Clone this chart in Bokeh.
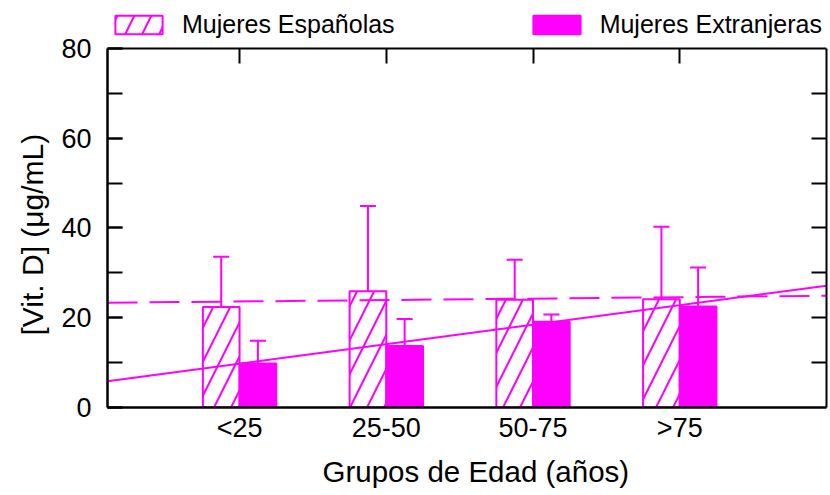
import numpy as np
from bokeh.plotting import figure
from bokeh.models import (ColumnDataSource, FixedTicker, SingleIntervalTicker, LinearAxis,
                          Range1d, Legend, LegendItem, Whisker, TeeHead, Title)
from bokeh.transform import dodge
from bokeh.embed import file_html
from bokeh.resources import INLINE

# ---- data ----
categories = ["<25", "25-50", "50-75", ">75"]
espanolas = [22.4, 25.9, 24.0, 24.1]
espanolas_err_top = [33.6, 44.9, 32.9, 40.3]
extranjeras = [9.8, 13.7, 19.1, 22.5]
extranjeras_err_top = [14.9, 19.7, 20.7, 31.2]
series_names = ["Mujeres Españolas", "Mujeres Extranjeras"]
y_max = 80
y_all_ticks = [10, 20, 30, 40, 50, 60, 70]

MAG = "#ff00ff"
FONT = "Liberation Sans"

xpos = list(range(1, len(categories) + 1))
src = ColumnDataSource(dict(x=xpos, esp=espanolas, esp_err=espanolas_err_top,
                            ext=extranjeras, ext_err=extranjeras_err_top))

# frame extends above the 80 line so the legend can sit inside it
p = figure(width=830, height=495, x_range=Range1d(0.1, 5.0), y_range=Range1d(0, 88.9),
           output_backend="svg", toolbar_location=None,
           min_border_left=107, min_border_right=4, min_border_top=8, min_border_bottom=88)
p.xgrid.visible = False
p.ygrid.visible = False
p.outline_line_color = None
p.background_fill_color = "white"
p.border_fill_color = "white"

r_esp = p.vbar(x=dodge("x", -0.125, range=p.x_range), top="esp", width=0.25, source=src,
               fill_color="white", line_color=MAG, line_width=2,
               hatch_pattern="/", hatch_color=MAG, hatch_weight=2, hatch_scale=34)
r_ext = p.vbar(x=dodge("x", 0.125, range=p.x_range), top="ext", width=0.25, source=src,
               fill_color=MAG, line_color=MAG, line_width=2)

for col, top, off in (("esp", "esp_err", -0.125), ("ext", "ext_err", 0.125)):
    w = Whisker(base=dodge("x", off, range=p.x_range), lower=col, upper=top, source=src,
                line_color=MAG, line_width=2,
                upper_head=TeeHead(size=16, line_color=MAG, line_width=2), lower_head=None)
    p.add_layout(w)

# linear trend lines
x0, x1 = p.x_range.start, p.x_range.end
ce = np.polyfit(xpos, espanolas, 1)
cx = np.polyfit(xpos, extranjeras, 1)
p.line([x0, x1], [np.polyval(ce, x0), np.polyval(ce, x1)], line_color=MAG, line_width=2,
       line_dash="30 12")
p.line([x0, x1], [np.polyval(cx, x0), np.polyval(cx, x1)], line_color=MAG, line_width=2)

xa = p.xaxis[0]
xa.ticker = FixedTicker(ticks=xpos)
xa.major_label_overrides = {x: c for x, c in zip(xpos, categories)}
xa.major_tick_in = 0
xa.major_tick_out = 0
xa.minor_tick_line_color = None
xa.axis_line_width = 2.5
xa.major_label_text_font = FONT
xa.major_label_text_font_size = "27px"
xa.major_label_text_color = "black"
xa.major_label_standoff = 5

# x title as a side-panel Title so it can be shifted along the axis
xtitle = Title(text="Grupos de Edad (años)", align="left", offset=215, standoff=14,
               text_font=FONT, text_font_size="29.5px", text_font_style="normal",
               text_color="black")
p.add_layout(xtitle, "below")

ya = p.yaxis[0]
ya.bounds = (0, y_max)
ya.ticker = SingleIntervalTicker(interval=20, num_minor_ticks=2)
ya.major_tick_in = 15
ya.major_tick_out = 0
ya.minor_tick_in = 15
ya.minor_tick_out = 0
ya.major_tick_line_width = 2
ya.minor_tick_line_width = 2
ya.minor_tick_line_color = "black"
ya.axis_line_width = 2.5
ya.major_label_text_font = FONT
ya.major_label_text_font_size = "27px"
ya.major_label_text_color = "black"
ya.major_label_standoff = 16

# y title as a side-panel Title so it can be shifted along the axis
ytitle = Title(text="[Vit. D] (μg/mL)", align="left", offset=72, standoff=19,
               text_font=FONT, text_font_size="30px", text_font_style="normal",
               text_color="black")
p.add_layout(ytitle, "left")

top_ax = LinearAxis(ticker=FixedTicker(ticks=xpos), fixed_location=y_max,
                    major_tick_in=15, major_tick_out=0,
                    major_tick_line_width=2, minor_tick_line_color=None, axis_line_width=2,
                    major_label_text_font_size="0px", major_label_text_color=None,
                    major_label_standoff=0)
p.add_layout(top_ax, "above")

right_ax = LinearAxis(ticker=FixedTicker(ticks=y_all_ticks), bounds=(0, y_max),
                      major_tick_in=15, major_tick_out=0,
                      major_tick_line_width=2, minor_tick_line_color=None, axis_line_width=2,
                      major_label_text_font_size="0px", major_label_text_color=None,
                      major_label_standoff=0)
p.add_layout(right_ax, "right")

legend = Legend(items=[LegendItem(label=series_names[0], renderers=[r_esp]),
                       LegendItem(label=series_names[1], renderers=[r_ext])],
                location=(2, 368), orientation="horizontal", spacing=132,
                glyph_width=59, glyph_height=23, label_standoff=14, padding=0, margin=0,
                border_line_color=None, background_fill_alpha=0,
                label_text_font=FONT, label_text_font_size="25px", label_text_color="black",
                label_height=23)
p.add_layout(legend)

open("out.html", "w").write(file_html(p, INLINE))
